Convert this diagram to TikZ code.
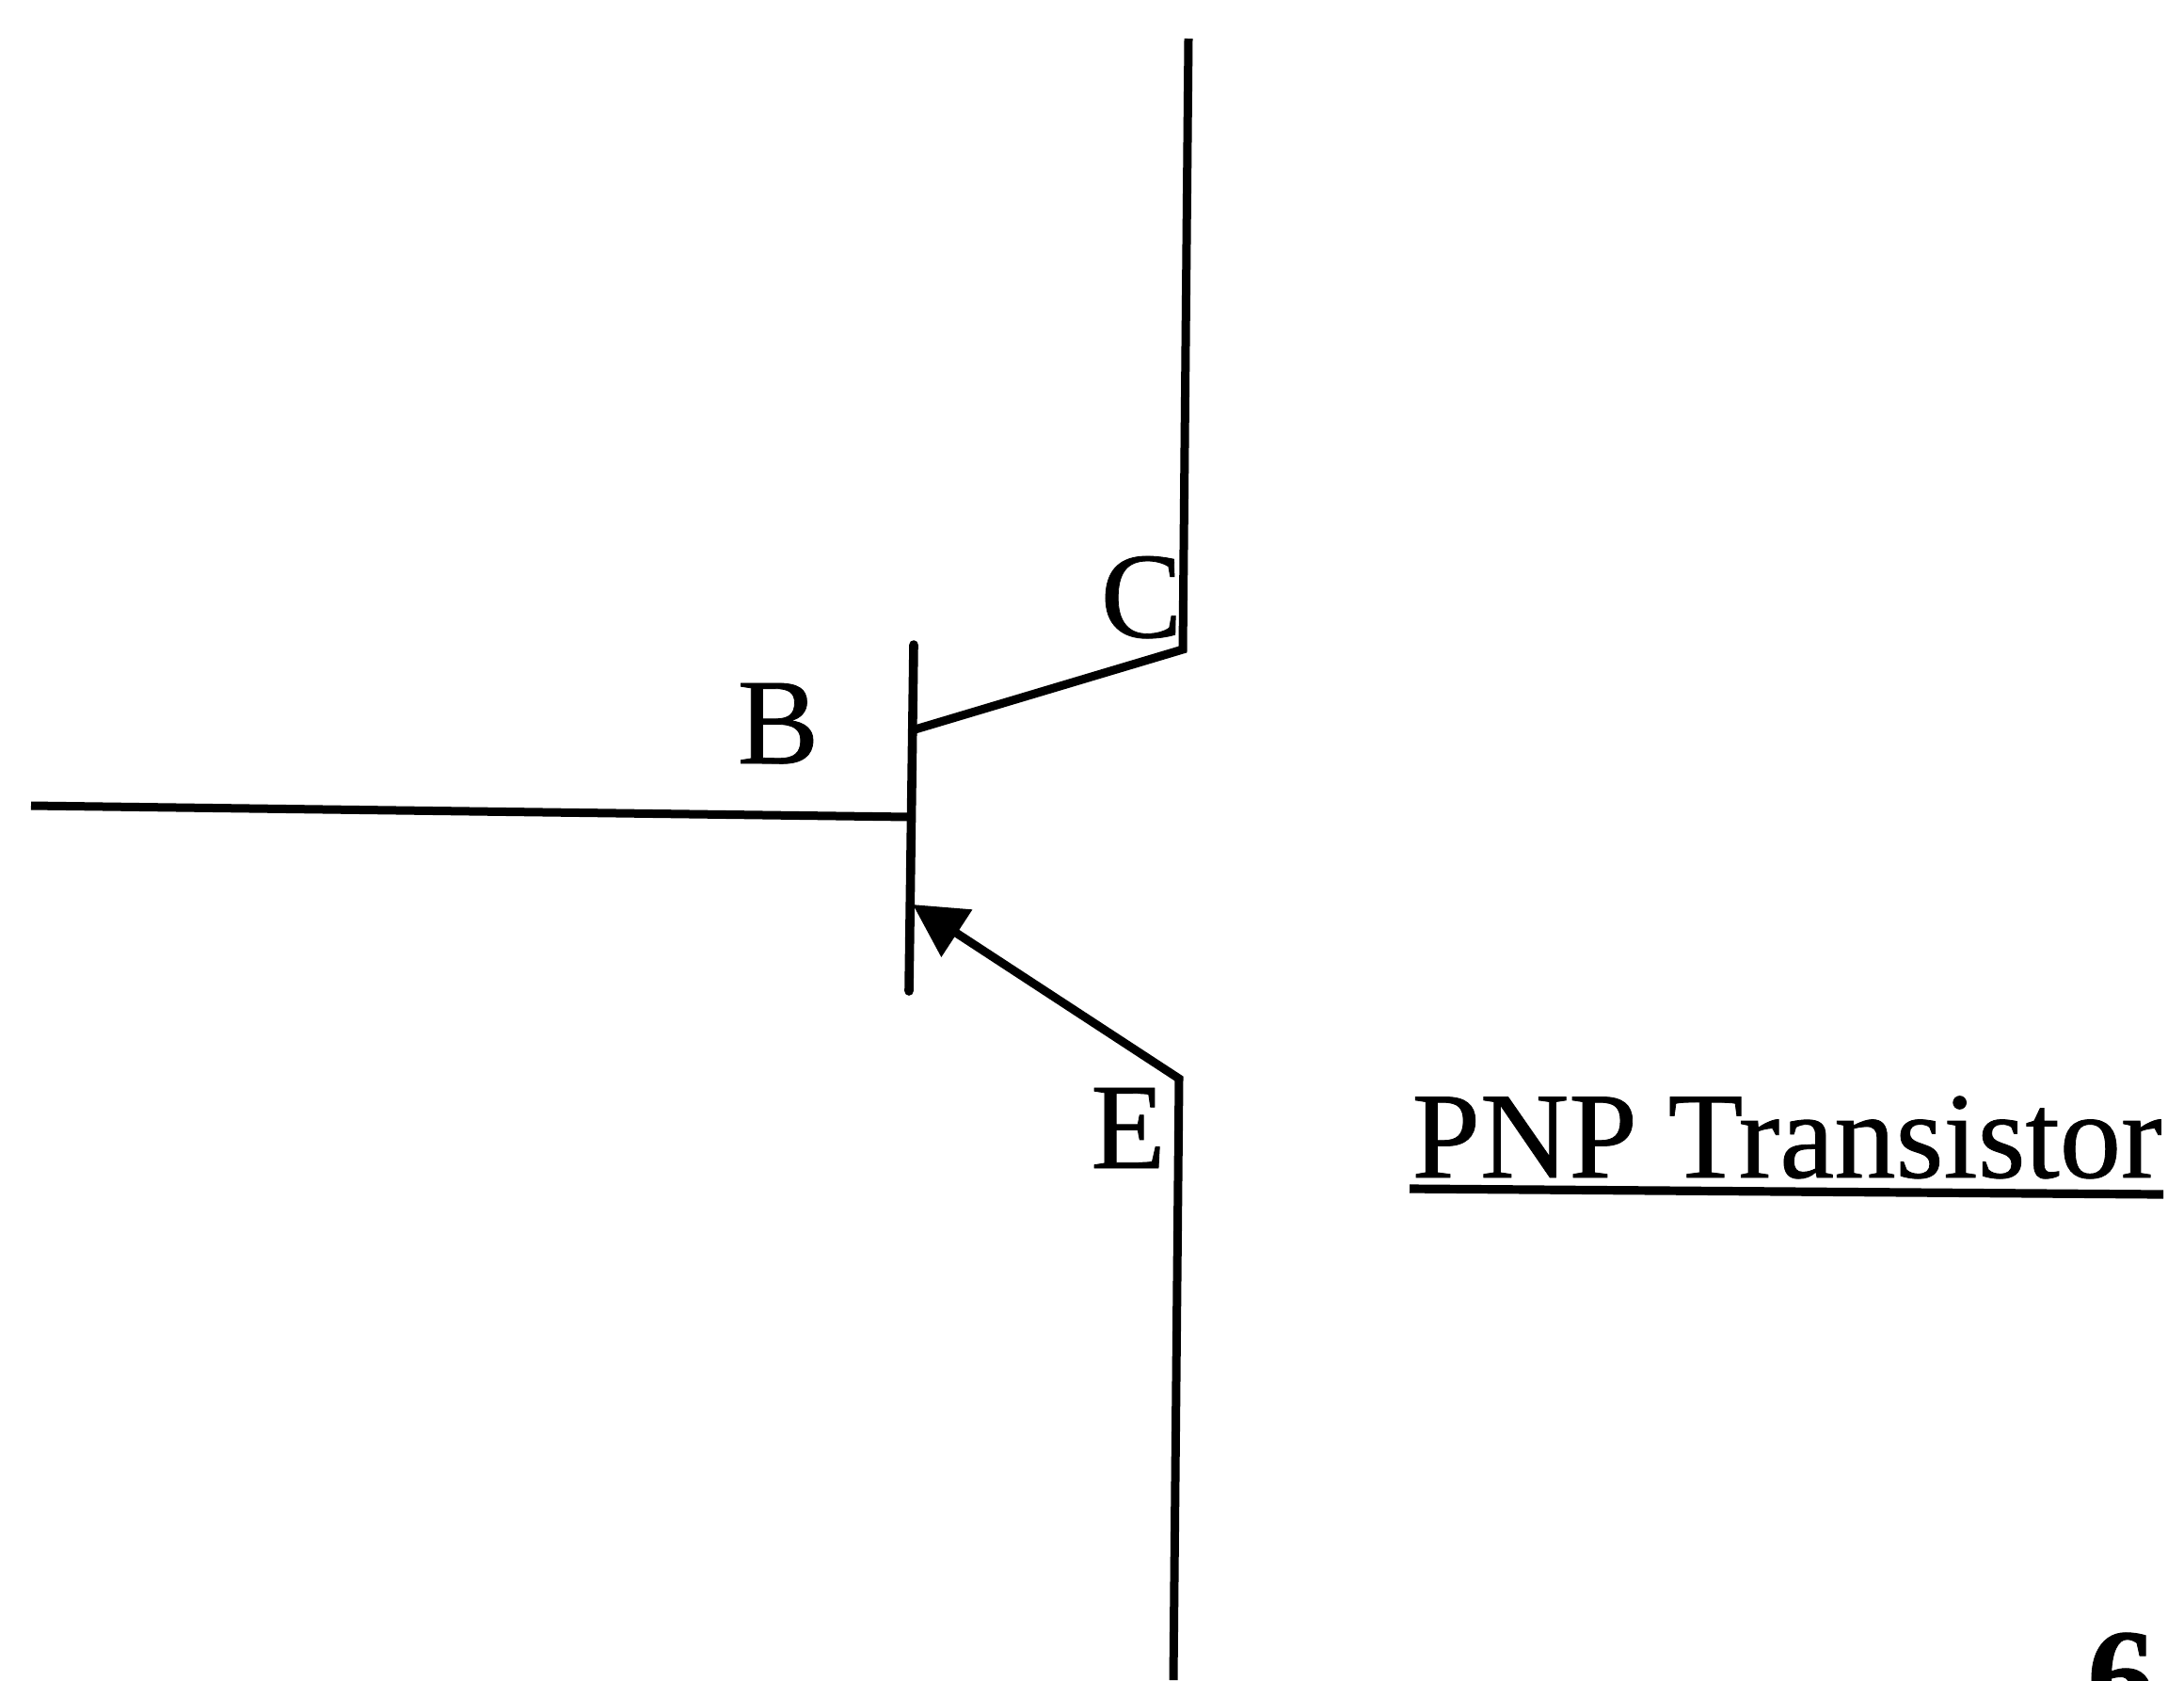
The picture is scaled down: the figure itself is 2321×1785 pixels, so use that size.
\documentclass[tikz,border=0pt]{standalone}
\usepackage{fontspec}
\setmainfont[FakeBold=0.6]{Liberation Serif}
\usetikzlibrary{arrows.meta}
\begin{document}
\begin{tikzpicture}[x=0.5pt,y=-0.5pt,
  wire/.style={line width=4.5pt,black,line cap=butt,line join=miter},
  barline/.style={line width=4.8pt,black,line cap=round},
  term/.style={inner sep=0pt,anchor=base,font=\fontsize{65}{65}\selectfont},
  caption/.style={inner sep=0pt,anchor=base west,font=\fontsize{65.3}{65.3}\selectfont},
  pagenum/.style={inner sep=0pt,anchor=base,font=\fontsize{72}{72}\selectfont\bfseries}]
\path[use as bounding box,fill=white] (0,0) rectangle (2321,1785);
\coordinate (ctop) at (1263,41);
\coordinate (ccorner) at (1257,690);
\coordinate (cbar) at (969,776);
\coordinate (bartop) at (971,685);
\coordinate (barbot) at (966,1053);
\coordinate (bleft) at (33,856);
\coordinate (bbar) at (968,868);
\coordinate (ecorner) at (1253,1146);
\coordinate (ebot) at (1247,1785);
\coordinate (etip) at (970,961);
\coordinate (ula) at (1498,1263);
\coordinate (ulb) at (2299,1269);
\draw[barline] (bartop) -- (barbot);
\draw[wire] (ctop) -- (ccorner) -- (cbar);
\draw[wire] (bleft) -- (bbar);
\draw[wire,-{Triangle[length=28pt,width=29pt]}] (ebot) -- (ecorner) -- (etip);
\node[term] (C) at (1213,677) {C};
\node[term] (B) at (827,811) {B};
\node[term] (E) at (1199,1241) {E};
\node[caption] (title) at (1500,1251) {PNP Transistor};
\draw[line width=4.6pt] (ula) -- (ulb);
\node[pagenum] (num) at (2254,1830) {6};
\end{tikzpicture}
\end{document}
